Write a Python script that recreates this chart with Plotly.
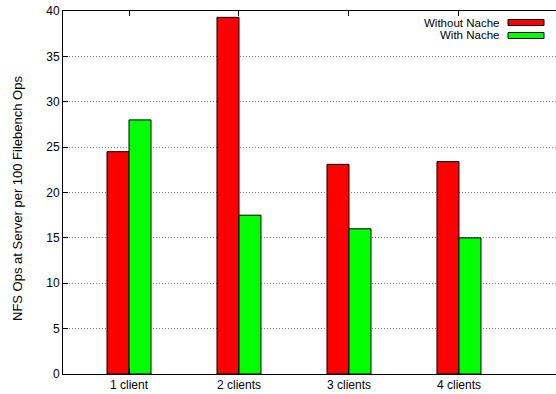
import plotly.graph_objects as go

categories = ["1 client", "2 clients", "3 clients", "4 clients"]
without_nache = [24.5, 39.3, 23.1, 23.4]
with_nache = [28.0, 17.5, 16.0, 15.0]
series_names = ["Without Nache", "With Nache"]
series_colors = ["#ff0000", "#00ff00"]
y_title = "NFS Ops at Server per 100 Filebench Ops"

x_pos = list(range(len(categories)))
FONT = "Liberation Sans, Arial, Helvetica, sans-serif"

# Plot-area geometry in pixels
L, T, W, H = 63, 11, 493, 363

fig = go.Figure()
for name, vals, col in zip(series_names, [without_nache, with_nache], series_colors):
    fig.add_trace(go.Bar(
        x=x_pos, y=vals, name=name,
        marker=dict(color=col, line=dict(color="#000000", width=1)),
        showlegend=False,
    ))

# Legend drawn as right-aligned labels with sample boxes, gnuplot style
for i, (name, col) in enumerate(zip(series_names, series_colors)):
    y_top = 19.5 + i * 13
    fig.add_shape(type="rect", xref="paper", yref="paper",
                  x0=(508 - L) / W, x1=(544 - L) / W,
                  y0=1 - (y_top - T) / H, y1=1 - (y_top + 6 - T) / H,
                  fillcolor=col, line=dict(color="#000000", width=1))
    fig.add_annotation(xref="paper", yref="paper",
                       x=(500 - L) / W, y=1 - (y_top + 3 - T) / H,
                       text=name, showarrow=False, xanchor="right", yanchor="middle",
                       borderpad=0,
                       font=dict(family=FONT, size=11.5, color="#000000"))

# Rotated y-axis title
fig.add_annotation(xref="paper", yref="paper",
                   x=(17 - L) / W, y=1 - (199 - T) / H,
                   text=y_title, textangle=-90, showarrow=False,
                   xanchor="center", yanchor="middle",
                   font=dict(family=FONT, size=13, color="#000000"))

fig.update_layout(
    width=556, height=394,
    margin=dict(l=L, r=0, t=T, b=394 - T - H),
    paper_bgcolor="white", plot_bgcolor="white",
    barmode="group", bargap=0.6, bargroupgap=0,
    font=dict(family=FONT, size=12, color="#000000"),
)
fig.update_xaxes(
    range=[-0.6, 3.882], tickvals=x_pos, ticktext=categories,
    showline=True, linecolor="#000000", linewidth=1, mirror="allticks",
    ticks="inside", ticklen=5, tickcolor="#000000",
    showgrid=False, zeroline=False, tickfont=dict(size=12),
)
fig.update_yaxes(
    range=[0, 40], dtick=5,
    showline=True, linecolor="#000000", linewidth=1,
    ticks="inside", ticklen=5, tickcolor="#000000",
    showgrid=True, gridcolor="#777777", gridwidth=1, griddash="1px,2px",
    zeroline=False, tickfont=dict(size=12),
)

fig.write_html("out.html", config={"displayModeBar": False})
